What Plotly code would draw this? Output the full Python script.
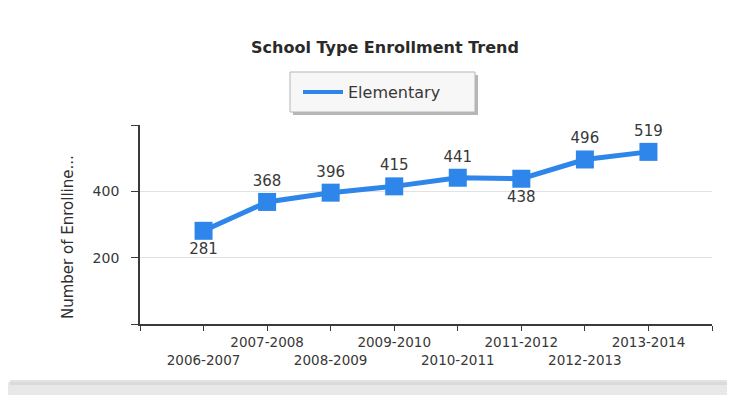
import plotly.graph_objects as go

years = ["2006-2007", "2007-2008", "2008-2009", "2009-2010",
         "2010-2011", "2011-2012", "2012-2013", "2013-2014"]
enrollment = [281, 368, 396, 415, 441, 438, 496, 519]
label_pos = ["bottom center", "top center", "top center", "top center",
             "top center", "bottom center", "top center", "top center"]
y_ticks = [200, 400]
series_name = "Elementary"
title_text = "School Type Enrollment Trend"
y_title = "Number of Enrolline..."

BLUE = "#2E86EA"
FONT = "DejaVu Sans, Arial, sans-serif"
TXT = "#383838"

# staggered tick labels: even on lower row, odd on upper row
x_idx = list(range(len(years)))
tick_vals = [-1] + x_idx + [len(years)]
tick_text = [""] + [("<br>" + t) if i % 2 == 0 else t for i, t in enumerate(years)] + [""]

# page body has an 8px margin: size the figure to fit the 735x395 window
OFF = 8
W, H = 735 - OFF, 395 - OFF
PL, PR, PT, PB = 140, 712, 125, 324          # plot box in window pixels
L, T = PL - OFF, PT - OFF
pw, ph = PR - PL, PB - PT
R, B = W - L - pw, H - T - ph

PAD = "\u00a0" * 2   # keeps y tick labels away from the axis


def px_x(p):
    return (p - PL) / pw


def px_y(p):
    return (PB - p) / ph


fig = go.Figure()
fig.add_trace(go.Scatter(
    x=x_idx, y=enrollment, mode="lines+markers+text",
    line=dict(color=BLUE, width=5),
    marker=dict(symbol="square", size=18, color=BLUE),
    text=[str(v) for v in enrollment], textposition=label_pos,
    textfont=dict(family=FONT, size=15, color=TXT),
    showlegend=False, cliponaxis=False, hoverinfo="skip"))
fig.add_trace(go.Scatter(
    x=[None], y=[None], mode="lines", name=series_name,
    line=dict(color=BLUE, width=4), showlegend=True))

shapes = [
    # legend shadow
    dict(type="rect", xref="paper", yref="paper",
         x0=px_x(293), x1=px_x(478), y0=px_y(115), y1=px_y(75),
         fillcolor="#7a7a7a", line=dict(width=0), layer="above", opacity=0.55),
    # legend box
    dict(type="rect", xref="paper", yref="paper",
         x0=px_x(290), x1=px_x(475), y0=px_y(112), y1=px_y(72),
         fillcolor="#f7f7f7", line=dict(color="#b5b5b5", width=1), layer="above"),
    # card bottom shadow
    dict(type="rect", xref="paper", yref="paper",
         x0=px_x(0), x1=px_x(735), y0=px_y(396), y1=px_y(382),
         fillcolor="#e8e8e8", line=dict(width=0), layer="below"),
    dict(type="rect", xref="paper", yref="paper",
         x0=px_x(10), x1=px_x(728), y0=px_y(385), y1=px_y(380),
         fillcolor="#d0d0d0", line=dict(width=0), layer="below", opacity=0.6),
]

annotations = [
    dict(text=y_title, xref="paper", yref="paper", x=px_x(68), y=px_y(237),
         xanchor="center", yanchor="middle", textangle=-90, showarrow=False,
         font=dict(family=FONT, size=15, color="#2e2e2e")),
]

fig.update_layout(
    width=W, height=H,
    margin=dict(l=L, r=R, t=T, b=B),
    paper_bgcolor="white", plot_bgcolor="white",
    font=dict(family=FONT, color=TXT),
    title=dict(text="<b>" + title_text + "</b>", x=px_x(385), xref="paper",
               xanchor="center", y=1 - (47 - OFF) / H, yanchor="middle",
               font=dict(size=16, color="#2a2a2a")),
    legend=dict(x=px_x(298), y=px_y(92), xanchor="left", yanchor="middle",
                bgcolor="rgba(0,0,0,0)", borderwidth=0,
                font=dict(size=16, color=TXT), itemwidth=40),
    shapes=shapes,
    annotations=annotations,
    xaxis=dict(
        range=[-1, 8], tickmode="array", tickvals=tick_vals, ticktext=tick_text,
        showgrid=False, zeroline=False, showline=True, linecolor="#3a3a3a",
        linewidth=2, ticks="outside", ticklen=5, tickcolor="#3a3a3a",
        tickfont=dict(size=13.5, color=TXT), tickangle=0, fixedrange=True),
    yaxis=dict(
        range=[0, 600], tickmode="array", tickvals=[0] + y_ticks + [600],
        ticktext=[""] + [str(v) + PAD for v in y_ticks] + [""],
        showgrid=True, gridcolor="#e2e2e2", gridwidth=1, zeroline=False,
        showline=True, linecolor="#3a3a3a", linewidth=2, ticks="outside",
        ticklen=7, tickcolor="#3a3a3a",
        tickfont=dict(size=14, color=TXT), fixedrange=True),
)

fig.write_html("out.html")
